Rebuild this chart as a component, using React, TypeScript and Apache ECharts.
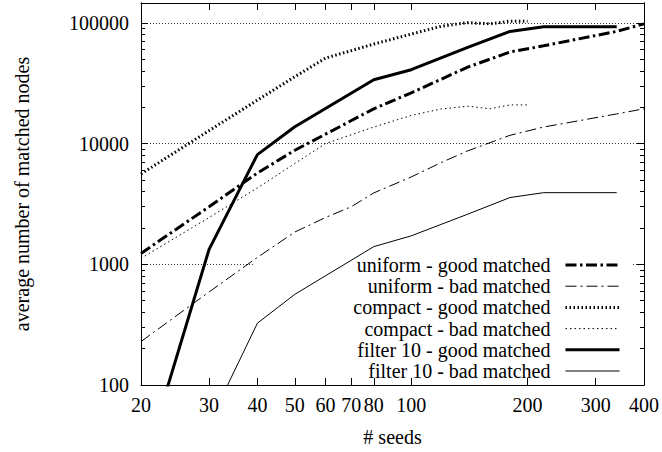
import React, { useEffect, useRef } from 'react';
import * as echarts from 'echarts';

// ---- data ----
const seedsUniformGood = [20, 30, 40, 50, 80, 100, 140, 180, 220, 340, 400];
const uniformGood = [1230, 3000, 5700, 8800, 19400, 26300, 43000, 57300, 64500, 85000, 98000];

const seedsUniformBad = [20, 30, 40, 50, 60, 70, 80, 100, 120, 140, 180, 220, 340, 400];
const uniformBad = [229, 590, 1140, 1850, 2440, 3000, 3900, 5290, 7000, 8700, 11700, 13700, 17600, 19400];

const seedsCompact = [20, 30, 40, 50, 60, 80, 100, 120, 140, 160, 180, 200];
const compactGood = [5600, 12800, 22900, 35800, 51000, 66700, 80700, 93900, 100400, 98000, 103300, 103300];
const compactBad = [1120, 2440, 4290, 6840, 10000, 13700, 17100, 19400, 20400, 19400, 20900, 20900];

const seedsFilterGood = [20, 30, 40, 50, 80, 100, 140, 180, 220, 340];
const filterGood = [18, 1330, 8100, 13800, 33800, 40900, 62600, 84900, 92700, 92700];

const seedsFilterBad = [30, 40, 50, 80, 100, 140, 180, 220, 340];
const filterBad = [48, 325, 564, 1400, 1720, 2600, 3570, 3920, 3920];

const seriesNames = [
  'uniform - good matched',
  'uniform - bad matched',
  'compact - good matched',
  'compact - bad matched',
  'filter 10 - good matched',
  'filter 10 - bad matched',
];

const xTicks = [20, 30, 40, 50, 60, 70, 80, 100, 200, 300, 400];
const yMajorTicks = [100, 1000, 10000, 100000];
const yMinorTicks = [
  200, 300, 400, 500, 600, 700, 800, 900,
  2000, 3000, 4000, 5000, 6000, 7000, 8000, 9000,
  20000, 30000, 40000, 50000, 60000, 70000, 80000, 90000,
];

const FONT = "'Liberation Serif', 'Times New Roman', Times, serif";

const pairs = (xs: number[], ys: number[]) => xs.map((x, i) => [x, ys[i]]);

const styles: Record<string, { width: number; type: any }> = {
  'uniform - good matched': { width: 3, type: [11, 3.5, 2.5, 3.5] },
  'uniform - bad matched': { width: 1, type: [11, 4, 2, 4] },
  'compact - good matched': { width: 3, type: [1.5, 2.5] },
  'compact - bad matched': { width: 1, type: [1.5, 3] },
  'filter 10 - good matched': { width: 3, type: 'solid' },
  'filter 10 - bad matched': { width: 1, type: 'solid' },
};

const seriesData: Record<string, number[][]> = {
  'uniform - good matched': pairs(seedsUniformGood, uniformGood),
  'uniform - bad matched': pairs(seedsUniformBad, uniformBad),
  'compact - good matched': pairs(seedsCompact, compactGood),
  'compact - bad matched': pairs(seedsCompact, compactBad),
  'filter 10 - good matched': pairs(seedsFilterGood, filterGood),
  'filter 10 - bad matched': pairs(seedsFilterBad, filterBad),
};

const fmt = (v: number) => String(Math.round(v));

const yBase = (position: 'left' | 'right', ticks: number[], len: number) => ({
  type: 'log',
  logBase: 10,
  min: 100,
  max: 146000,
  position,
  axisLine: { show: true, onZero: false, lineStyle: { color: '#000', width: 1 } },
  axisTick: { show: true, inside: true, length: len, customValues: ticks, lineStyle: { color: '#000', width: 1 } },
  axisLabel: { show: false },
  splitLine: { show: false },
  minorTick: { show: false },
});

const xBase = (position: 'bottom' | 'top') => ({
  type: 'log',
  logBase: 10,
  min: 20,
  max: 400,
  position,
  axisLine: { show: true, onZero: false, lineStyle: { color: '#000', width: 1 } },
  axisTick: { show: true, inside: true, length: 7, customValues: xTicks, lineStyle: { color: '#000', width: 1 } },
  axisLabel: { show: false },
  splitLine: { show: false },
});

export default function App() {
  const ref = useRef<HTMLDivElement>(null);
  useEffect(() => {
    const chart = echarts.init(ref.current!, null, { renderer: 'svg' });
    const option: any = {
      animation: false,
      backgroundColor: '#fff',
      textStyle: { fontFamily: FONT, color: '#000' },
      grid: { left: 141, right: 18, top: 3, bottom: 65 },
      xAxis: [
        {
          ...xBase('bottom'),
          name: '# seeds',
          nameLocation: 'middle',
          nameGap: 42,
          nameTextStyle: { fontFamily: FONT, fontSize: 20, color: '#000' },
          axisLabel: {
            show: true,
            customValues: xTicks,
            margin: 10,
            formatter: fmt,
            fontFamily: FONT,
            fontSize: 20,
            color: '#000',
          },
        },
        xBase('top'),
      ],
      yAxis: [
        {
          ...yBase('left', yMajorTicks, 7),
          name: 'average number of matched nodes',
          nameLocation: 'middle',
          nameGap: 109,
          nameRotate: 90,
          nameTextStyle: { fontFamily: FONT, fontSize: 20, color: '#000' },
          axisLabel: {
            show: true,
            customValues: yMajorTicks,
            margin: 12,
            formatter: fmt,
            fontFamily: FONT,
            fontSize: 20,
            color: '#000',
          },
          splitLine: { show: true, lineStyle: { color: '#000', width: 0.8, type: [1, 2] } },
        },
        yBase('left', yMinorTicks, 4),
        yBase('right', yMajorTicks, 7),
        yBase('right', yMinorTicks, 4),
      ],
      legend: {
        orient: 'vertical',
        align: 'right',
        right: 41,
        top: 255,
        padding: 0,
        itemGap: 1.2,
        itemWidth: 54,
        itemHeight: 20,
        selectedMode: false,
        itemStyle: { opacity: 0 },
        textStyle: { fontFamily: FONT, fontSize: 20, color: '#000', padding: [0, 10, 0, 0] },
        data: seriesNames.map((n) => ({
          name: n,
          lineStyle: { color: '#000', width: styles[n].width, type: styles[n].type },
        })),
      },
      graphic: [
        {
          type: 'rect',
          z: 1,
          silent: true,
          shape: { x: 253, y: 261, width: 379, height: 9 },
          style: { fill: '#fff' },
        },
      ],
      series: seriesNames.map((n) => ({
        name: n,
        type: 'line',
        xAxisIndex: 0,
        yAxisIndex: 0,
        symbol: 'none',
        clip: true,
        data: seriesData[n],
        lineStyle: { color: '#000', width: styles[n].width, type: styles[n].type },
        itemStyle: { color: '#000' },
        z: 2,
      })),
    };
    chart.setOption(option);
    return () => chart.dispose();
  }, []);
  return (
    <div
      ref={ref}
      style={{ position: 'absolute', left: 0, top: 0, width: 662, height: 452 }}
    />
  );
}
